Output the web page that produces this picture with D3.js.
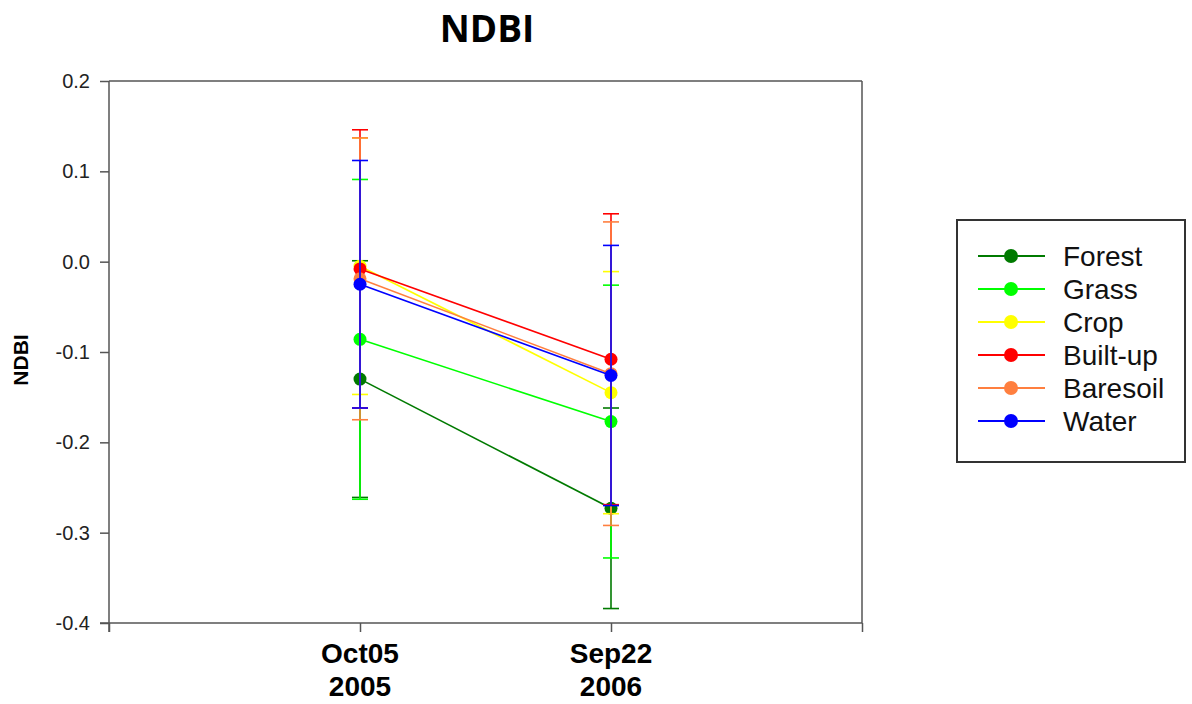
<!DOCTYPE html>
<html>
<head>
<meta charset="utf-8">
<script src="https://cdn.jsdelivr.net/npm/d3@7"></script>
<style>
  html, body { margin: 0; padding: 0; background: #fff; }
  svg { display: block; }
</style>
</head>
<body>
<svg id="chart" width="1192" height="704"></svg>
<script>
// ---- data ----
const dateLabels = ["Oct05", "Sep22"];
const yearLabels = ["2005", "2006"];
const seriesNames = ["Forest", "Grass", "Crop", "Built-up", "Baresoil", "Water"];
const seriesColors = ["#007a00", "#00ff00", "#ffff00", "#ff0000", "#ff7f3f", "#0000ff"];
const forestMean = [-0.130, -0.273];
const forestSD = [0.131, 0.111];
const grassMean = [-0.086, -0.177];
const grassSD = [0.177, 0.151];
const cropMean = [-0.005, -0.145];
const cropSD = [0.142, 0.134];
const builtMean = [-0.008, -0.108];
const builtSD = [0.154, 0.161];
const bareMean = [-0.019, -0.124];
const bareSD = [0.156, 0.168];
const waterMean = [-0.025, -0.126];
const waterSD = [0.137, 0.144];
const yTicks = [0.2, 0.1, 0.0, -0.1, -0.2, -0.3, -0.4];

const means = [forestMean, grassMean, cropMean, builtMean, bareMean, waterMean];
const sds = [forestSD, grassSD, cropSD, builtSD, bareSD, waterSD];
const series = seriesNames.map((n, i) => ({
  name: n, color: seriesColors[i],
  pts: dateLabels.map((d, j) => ({ x: j + 1, m: means[i][j], s: sds[i][j] }))
}));

// ---- layout ----
const svg = d3.select("#chart");
const L = 109, R = 862, T = 81, B = 623;
const x = d3.scaleLinear().domain([0, 3]).range([L, R]);
const y = d3.scaleLinear().domain([-0.4, 0.2]).range([B, T]);
const axisColor = "#555";
const fmt = d => d3.format(".1f")(d).replace("\u2212", "-");

// frame
svg.append("line").attr("x1", L).attr("x2", R).attr("y1", T).attr("y2", T)
  .attr("stroke", axisColor).attr("stroke-width", 1.5);
svg.append("line").attr("x1", R).attr("x2", R).attr("y1", T).attr("y2", B)
  .attr("stroke", axisColor).attr("stroke-width", 1.5);

// y axis
const yAxis = d3.axisLeft(y).tickValues(yTicks).tickSize(9).tickPadding(10)
  .tickFormat(fmt);
const gy = svg.append("g").attr("transform", `translate(${L},0)`).call(yAxis);
gy.select(".domain").attr("stroke", axisColor).attr("stroke-width", 1.5)
  .attr("d", `M0,${T}V${B + 9}`);
gy.selectAll(".tick line").attr("stroke", axisColor).attr("stroke-width", 1.5);
gy.selectAll(".tick text").attr("font-family", "Liberation Sans, Arial, sans-serif")
  .attr("font-size", 20).attr("fill", "#222");

// x axis
const xAxis = d3.axisBottom(x).tickValues([0, 1, 2, 3]).tickSize(9).tickFormat("");
const gx = svg.append("g").attr("transform", `translate(0,${B})`).call(xAxis);
gx.select(".domain").attr("stroke", axisColor).attr("stroke-width", 1.5)
  .attr("d", `M${L - 9},0H${R}`);
gx.selectAll(".tick line").attr("stroke", axisColor).attr("stroke-width", 1.5);

// x labels
dateLabels.forEach((d, j) => {
  [[d, 663], [yearLabels[j], 696]].forEach(([txt, yy]) => {
    svg.append("text").attr("text-anchor", "middle")
      .attr("x", x(j + 1)).attr("y", yy)
      .attr("font-family", "Liberation Sans, Arial, sans-serif").attr("font-weight", "bold")
      .attr("font-size", 28).attr("fill", "#000").text(txt);
  });
});

// title
svg.append("text").attr("x", 487).attr("y", 42).attr("text-anchor", "middle")
  .attr("font-family", "Open Sans, Noto Sans, sans-serif").attr("font-weight", "bold")
  .attr("font-size", 37).attr("fill", "#000").text("NDBI");

// y title
svg.append("text").attr("transform", "translate(28,360) rotate(-90)")
  .attr("text-anchor", "middle")
  .attr("font-family", "Liberation Sans, Arial, sans-serif").attr("font-weight", "bold")
  .attr("font-size", 21).attr("fill", "#000").text("NDBI");

// series: lines, error bars, markers
const cap = 8;
const line = d3.line().x(p => x(p.x)).y(p => y(p.m));
series.forEach(s => {
  const g = svg.append("g");
  g.append("path").attr("d", line(s.pts)).attr("fill", "none")
    .attr("stroke", s.color).attr("stroke-width", 1.6);
  s.pts.forEach(p => {
    const cx = x(p.x), y1 = y(p.m + p.s), y2 = y(p.m - p.s);
    g.append("line").attr("x1", cx).attr("x2", cx).attr("y1", y1).attr("y2", y2)
      .attr("stroke", s.color).attr("stroke-width", 1.6);
    [y1, y2].forEach(yy => g.append("line").attr("x1", cx - cap).attr("x2", cx + cap)
      .attr("y1", yy).attr("y2", yy).attr("stroke", s.color).attr("stroke-width", 1.6));
    g.append("circle").attr("cx", cx).attr("cy", y(p.m)).attr("r", 6.5).attr("fill", s.color);
  });
});

// legend
const lg = svg.append("g");
lg.append("rect").attr("x", 957).attr("y", 220).attr("width", 228).attr("height", 242)
  .attr("fill", "#fff").attr("stroke", "#333").attr("stroke-width", 2);
series.forEach((s, i) => {
  const yy = 256 + i * 33;
  lg.append("line").attr("x1", 978).attr("x2", 1045).attr("y1", yy).attr("y2", yy)
    .attr("stroke", s.color).attr("stroke-width", 2);
  lg.append("circle").attr("cx", 1011).attr("cy", yy).attr("r", 7).attr("fill", s.color);
  lg.append("text").attr("x", 1063).attr("y", yy + 10)
    .attr("font-family", "Liberation Sans, Arial, sans-serif").attr("font-size", 28)
    .attr("fill", "#111").text(s.name);
});
</script>
</body>
</html>
